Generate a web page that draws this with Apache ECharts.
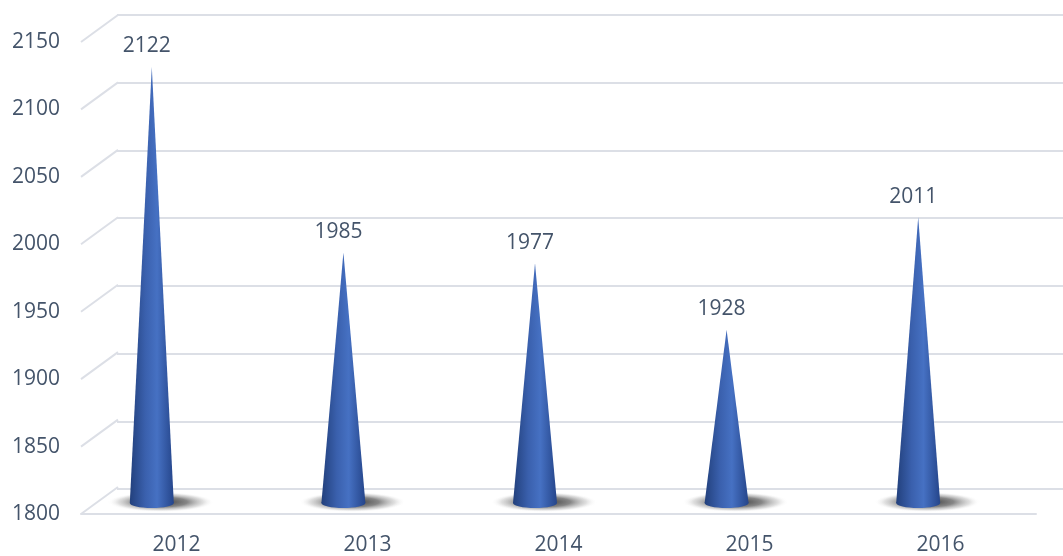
<!DOCTYPE html>
<html>
<head>
<meta charset="utf-8">
<script src="https://cdn.jsdelivr.net/npm/echarts@6/dist/echarts.min.js"></script>
<style>
  html, body { margin: 0; padding: 0; background: #fff; }
  #chart { width: 1063px; height: 556px; }
</style>
</head>
<body>
<div id="chart"></div>
<script>
const years = ['2012', '2013', '2014', '2015', '2016']
const values = [2122, 1985, 1977, 1928, 2011]
const yTicks = [1800, 1850, 1900, 1950, 2000, 2050, 2100, 2150]

const yMin = 1800
const yMax = 2150
const textColor = '#44546a'
const gridColor = '#dcdfe6'

const chart = echarts.init(document.getElementById('chart'))

const coneFill = new echarts.graphic.LinearGradient(0, 0, 1, 0, [
  { offset: 0, color: '#22407c' },
  { offset: 0.35, color: '#3a60ad' },
  { offset: 0.62, color: '#4671c3' },
  { offset: 1, color: '#25458a' }
])

const option = {
  animation: false,
  textStyle: { fontFamily: 'Open Sans, Liberation Sans, sans-serif' },
  grid: [
    // front plane: axis labels and floor edge
    { left: 81, right: 27, top: 42, bottom: 40 },
    // back wall: horizontal gridlines
    { left: 117, right: 0, top: 15, bottom: 67 },
    // middle depth: cones
    { left: 56, right: 49, top: 29, bottom: 53 }
  ],
  xAxis: [
    {
      gridIndex: 0,
      type: 'category',
      data: years,
      axisTick: { show: false },
      axisLine: { lineStyle: { color: gridColor, width: 2 } },
      axisLabel: { color: textColor, fontSize: 21, margin: 21 }
    },
    { gridIndex: 1, type: 'category', data: years, show: false },
    { gridIndex: 2, type: 'category', data: years, show: false }
  ],
  yAxis: [
    {
      gridIndex: 0,
      type: 'value',
      min: yMin,
      max: yMax,
      interval: 50,
      axisLine: { show: false },
      axisTick: { show: false },
      splitLine: { show: false },
      axisLabel: {
        color: textColor,
        fontSize: 21,
        margin: 21,
        formatter: v => String(v)
      }
    },
    {
      gridIndex: 1,
      type: 'value',
      min: yMin,
      max: yMax,
      interval: 50,
      axisLine: { show: false },
      axisTick: { show: false },
      axisLabel: { show: false },
      splitLine: { lineStyle: { color: gridColor, width: 2 } }
    },
    {
      gridIndex: 2,
      type: 'value',
      min: yMin,
      max: yMax,
      interval: 50,
      show: false
    }
  ],
  series: [
    {
      // slanted side-wall lines joining front ticks to back gridlines
      type: 'custom',
      xAxisIndex: 0,
      yAxisIndex: 0,
      silent: true,
      data: yTicks.map(v => [0, v]),
      renderItem: function (params, api) {
        const p = api.coord([0, api.value(1)])
        const x0 = params.coordSys.x
        return {
          type: 'line',
          shape: { x1: x0, y1: p[1], x2: x0 + 37, y2: p[1] - 27 },
          style: { stroke: gridColor, lineWidth: 2 }
        }
      },
      z: 1
    },
    {
      // floor shadows
      type: 'scatter',
      xAxisIndex: 2,
      yAxisIndex: 2,
      silent: true,
      data: years.map(y => [y, yMin]),
      symbol: 'circle',
      symbolSize: [106, 20],
      symbolOffset: [9, -1],
      itemStyle: {
        opacity: 1,
        color: new echarts.graphic.RadialGradient(0.5, 0.5, 0.5, [
          { offset: 0, color: 'rgba(30,30,30,0.9)' },
          { offset: 0.5, color: 'rgba(70,70,70,0.65)' },
          { offset: 0.8, color: 'rgba(150,150,150,0.3)' },
          { offset: 1, color: 'rgba(255,255,255,0)' }
        ])
      },
      z: 2
    },
    {
      // cones drawn from the axis scale
      type: 'custom',
      xAxisIndex: 2,
      yAxisIndex: 2,
      data: values.map((v, i) => [i, v]),
      renderItem: function (params, api) {
        const base = api.coord([api.value(0), yMin])
        const tip = api.coord([api.value(0), api.value(1)])
        const r = 22
        const ry = 5
        return {
          type: 'group',
          children: [
            {
              type: 'polygon',
              shape: {
                points: [[base[0] - r, base[1]], [tip[0], tip[1]], [base[0] + r, base[1]]]
              },
              style: { fill: coneFill }
            },
            {
              type: 'ellipse',
              shape: { cx: base[0], cy: base[1], rx: r, ry: ry },
              style: { fill: coneFill }
            }
          ]
        }
      },
      z: 3
    },
    {
      // value labels above cone tips
      type: 'scatter',
      xAxisIndex: 2,
      yAxisIndex: 2,
      silent: true,
      data: values.map((v, i) => [years[i], v]),
      symbolSize: 0,
      itemStyle: { opacity: 1 },
      label: {
        show: true,
        position: 'top',
        distance: 10,
        offset: [-5, 0],
        color: textColor,
        fontSize: 21,
        formatter: p => String(p.value[1])
      },
      z: 4
    }
  ]
}

chart.setOption(option)
</script>
</body>
</html>
